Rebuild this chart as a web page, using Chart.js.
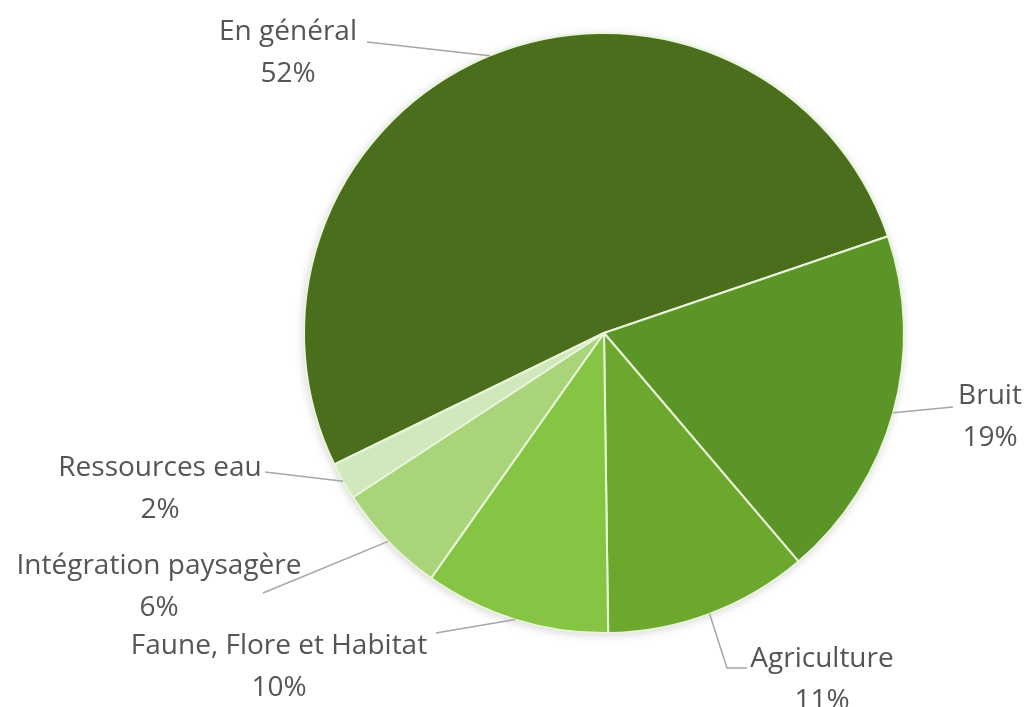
<!DOCTYPE html>
<html>
<head>
<meta charset="utf-8">
<script src="https://cdn.jsdelivr.net/npm/chart.js@4"></script>
<style>
  html, body { margin: 0; padding: 0; background: #fff; }
  #wrap { width: 1027px; height: 707px; }
</style>
</head>
<body>
<div id="wrap"><canvas id="c" width="1027" height="707"></canvas></div>
<script>
const categories = ['En général', 'Bruit', 'Agriculture', 'Faune, Flore et Habitat', 'Intégration paysagère', 'Ressources eau'];
const shares = [52, 19, 11, 10, 6, 2];
const sliceColors = ['#4a6e1c', '#5c9527', '#6ca82e', '#86c443', '#a9d47a', '#d1e8bd'];

// where each label sits: text centre, the point the leader line starts from, optional elbow
const labelSpots = [
  { x: 288, y: 32, from: [367, 42] },
  { x: 990, y: 396, from: [953, 407] },
  { x: 822, y: 659, from: [747, 668], elbow: [727, 668] },
  { x: 279, y: 646, from: [436, 633] },
  { x: 159, y: 566, from: [263, 593] },
  { x: 160, y: 468, from: [265, 472] }
];

// soft shadow under the pie
const pieShadow = {
  id: 'pieShadow',
  beforeDatasetsDraw(chart) {
    const arc = chart.getDatasetMeta(0).data[0];
    if (!arc) return;
    const ctx = chart.ctx;
    ctx.save();
    ctx.shadowColor = 'rgba(0,0,0,0.18)';
    ctx.shadowBlur = 10;
    ctx.shadowOffsetX = -1;
    ctx.shadowOffsetY = 2;
    ctx.fillStyle = '#ffffff';
    ctx.beginPath();
    ctx.arc(arc.x, arc.y, arc.outerRadius, 0, Math.PI * 2);
    ctx.fill();
    ctx.restore();
  }
};

const outsideLabels = {
  id: 'outsideLabels',
  afterDatasetsDraw(chart) {
    const ctx = chart.ctx;
    const arcs = chart.getDatasetMeta(0).data;
    ctx.save();
    arcs.forEach((arc, i) => {
      const spot = labelSpots[i];
      const mid = (arc.startAngle + arc.endAngle) / 2;
      const ax = arc.x + Math.cos(mid) * arc.outerRadius;
      const ay = arc.y + Math.sin(mid) * arc.outerRadius;
      ctx.strokeStyle = '#a6a6a6';
      ctx.lineWidth = 1.5;
      ctx.beginPath();
      ctx.moveTo(spot.from[0], spot.from[1]);
      if (spot.elbow) ctx.lineTo(spot.elbow[0], spot.elbow[1]);
      ctx.lineTo(ax, ay);
      ctx.stroke();

      ctx.fillStyle = '#555555';
      ctx.font = '28px "Open Sans"';
      ctx.textAlign = 'center';
      ctx.textBaseline = 'middle';
      ctx.fillText(categories[i], spot.x, spot.y);
      ctx.fillText(shares[i] + '%', spot.x, spot.y + 42);
    });
    ctx.restore();
  }
};

new Chart(document.getElementById('c'), {
  type: 'pie',
  data: {
    labels: categories,
    datasets: [{
      data: shares,
      backgroundColor: sliceColors,
      borderColor: '#e9f5d9',
      borderWidth: 2
    }]
  },
  options: {
    responsive: false,
    maintainAspectRatio: false,
    animation: false,
    rotation: 244,
    layout: { padding: { left: 303, right: 122, top: 32, bottom: 73 } },
    plugins: {
      legend: { display: false },
      tooltip: { enabled: false }
    }
  },
  plugins: [pieShadow, outsideLabels]
});
</script>
</body>
</html>
